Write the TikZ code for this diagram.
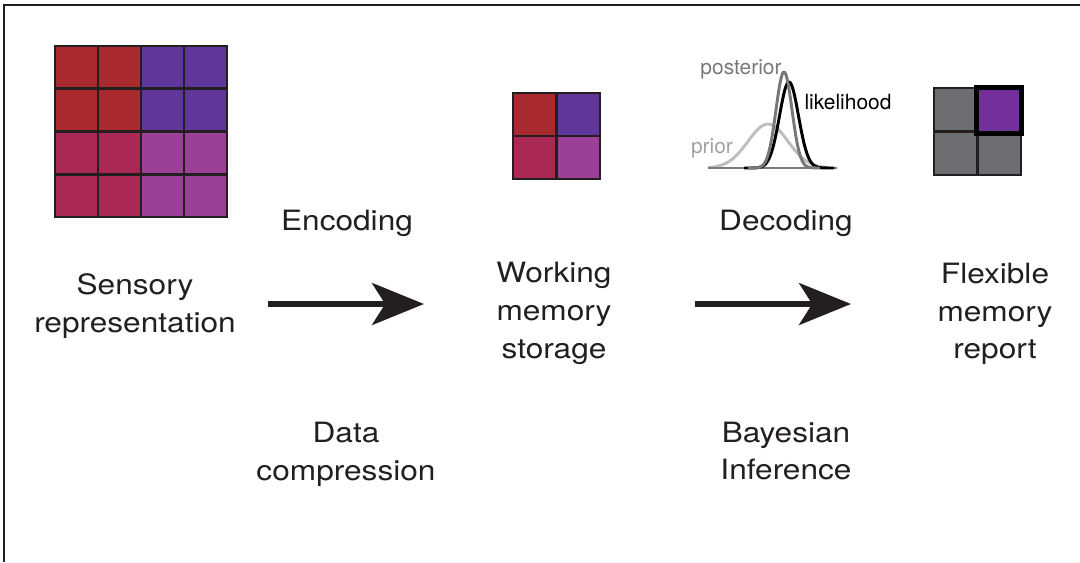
\documentclass[tikz,border=0pt]{standalone}
\usepackage{fontspec}
\setmainfont{TeX Gyre Heros}
\newfontfamily\widefont[FakeStretch=1.13]{TeX Gyre Heros}
\usetikzlibrary{arrows.meta}
\definecolor{inkline}{HTML}{231F20}
\definecolor{cellred}{HTML}{A82A2E}
\definecolor{cellviolet}{HTML}{60369A}
\definecolor{cellcrimson}{HTML}{AA2856}
\definecolor{cellmagenta}{HTML}{9B3F97}
\definecolor{cellgray}{HTML}{6D6E71}
\definecolor{cellpick}{HTML}{74309A}
\definecolor{priorgray}{HTML}{BCBEC0}
\definecolor{postgray}{HTML}{77787B}
\tikzset{stagetext/.style = {font=\widefont\fontsize{19.9}{26.9}\selectfont, text=inkline, align=center, inner sep=0pt}}
\tikzset{plottext/.style = {font=\fontsize{14.9}{17}\selectfont, inner sep=0pt, anchor=base}}
\tikzset{cell/.style = {draw=inkline, line width=1.8pt}}
\tikzset{flow/.style = {draw=inkline, line width=3.6pt, -{Stealth[length=1.3cm,width=1.05cm,inset=0.33cm]}}}
\tikzset{curve/.style = {line width=2.1pt, line join=round}}

\begin{document}
\begin{tikzpicture}[x=0.025cm, y=-0.025cm]
    \useasboundingbox (0,0) rectangle (1080,562);
    \draw[inkline, line width=1.4pt] (4,562) -- (4,5) -- (1080,5);

    \foreach \qx/\qy/\col in {0/0/cellred, 1/0/cellviolet, 0/1/cellcrimson, 1/1/cellmagenta} {
        \fill[\col] (55+86*\qx, 46+85.5*\qy) rectangle ++(86,85.5);
        \fill[\col] (513+43.5*\qx, 93+43*\qy) rectangle ++(43.5,43);
    }
    \fill[cellgray] (934,88) rectangle (1021,175);

    \foreach \k in {1,2,3} {
        \draw[cell] (55+43*\k,46) -- ++(0,171);
        \draw[cell] (55,46+42.75*\k) -- ++(172,0);
    }
    \draw[cell] (55,46) rectangle (227,217);
    \draw[cell] (513,93) rectangle (600,179);
    \draw[cell] (556.5,93) -- (556.5,179);
    \draw[cell] (513,136) -- (600,136);
    \draw[cell] (934,88) rectangle (1021,175);
    \draw[cell] (977.5,88) -- (977.5,175);
    \draw[cell] (934,131.5) -- (1021,131.5);
    \filldraw[fill=cellpick, draw=black, line width=3.8pt] (976.5,87.5) rectangle (1021.5,133.5);

    \draw[curve, priorgray] plot[domain=708:830, samples=90] (\x, {168-44*exp(-((\x-768)/20)*((\x-768)/20)/2)});
    \draw[curve, postgray] (708,168) -- (837,168);
    \draw[curve, black] plot[domain=744:834, samples=90] (\x, {168-86*exp(-((\x-789)/9.5)*((\x-789)/9.5)/2)});
    \draw[curve, postgray] plot[domain=748:820, samples=90] (\x, {168-96*exp(-((\x-784)/8)*((\x-784)/8)/2)});

    \node[plottext, text=postgray] (posterior) at (741,74) {posterior};
    \node[plottext, text=black] (likelihood) at (848,109) {likelihood};
    \node[plottext, text=priorgray!85!black] (prior) at (712,153) {prior};

    \node[stagetext, anchor=base] (encoding) at (347,230) {Encoding};
    \node[stagetext, anchor=base] (decoding) at (786,230) {Decoding};
    \node[stagetext] (sensory) at (135,306.5) {Sensory\\representation};
    \node[stagetext] (storage) at (554,313.5) {Working\\memory\\storage};
    \node[stagetext] (report) at (995,314) {Flexible\\memory\\report};
    \node[stagetext] (compression) at (346,454) {Data\\compression};
    \node[stagetext] (inference) at (786,451) {Bayesian\\Inference};

    \coordinate (enc-start) at (268,304);
    \coordinate (enc-end) at (424,304);
    \coordinate (dec-start) at (695,304);
    \coordinate (dec-end) at (851,304);
    \draw[flow] (enc-start) -- (enc-end);
    \draw[flow] (dec-start) -- (dec-end);
\end{tikzpicture}
\end{document}
